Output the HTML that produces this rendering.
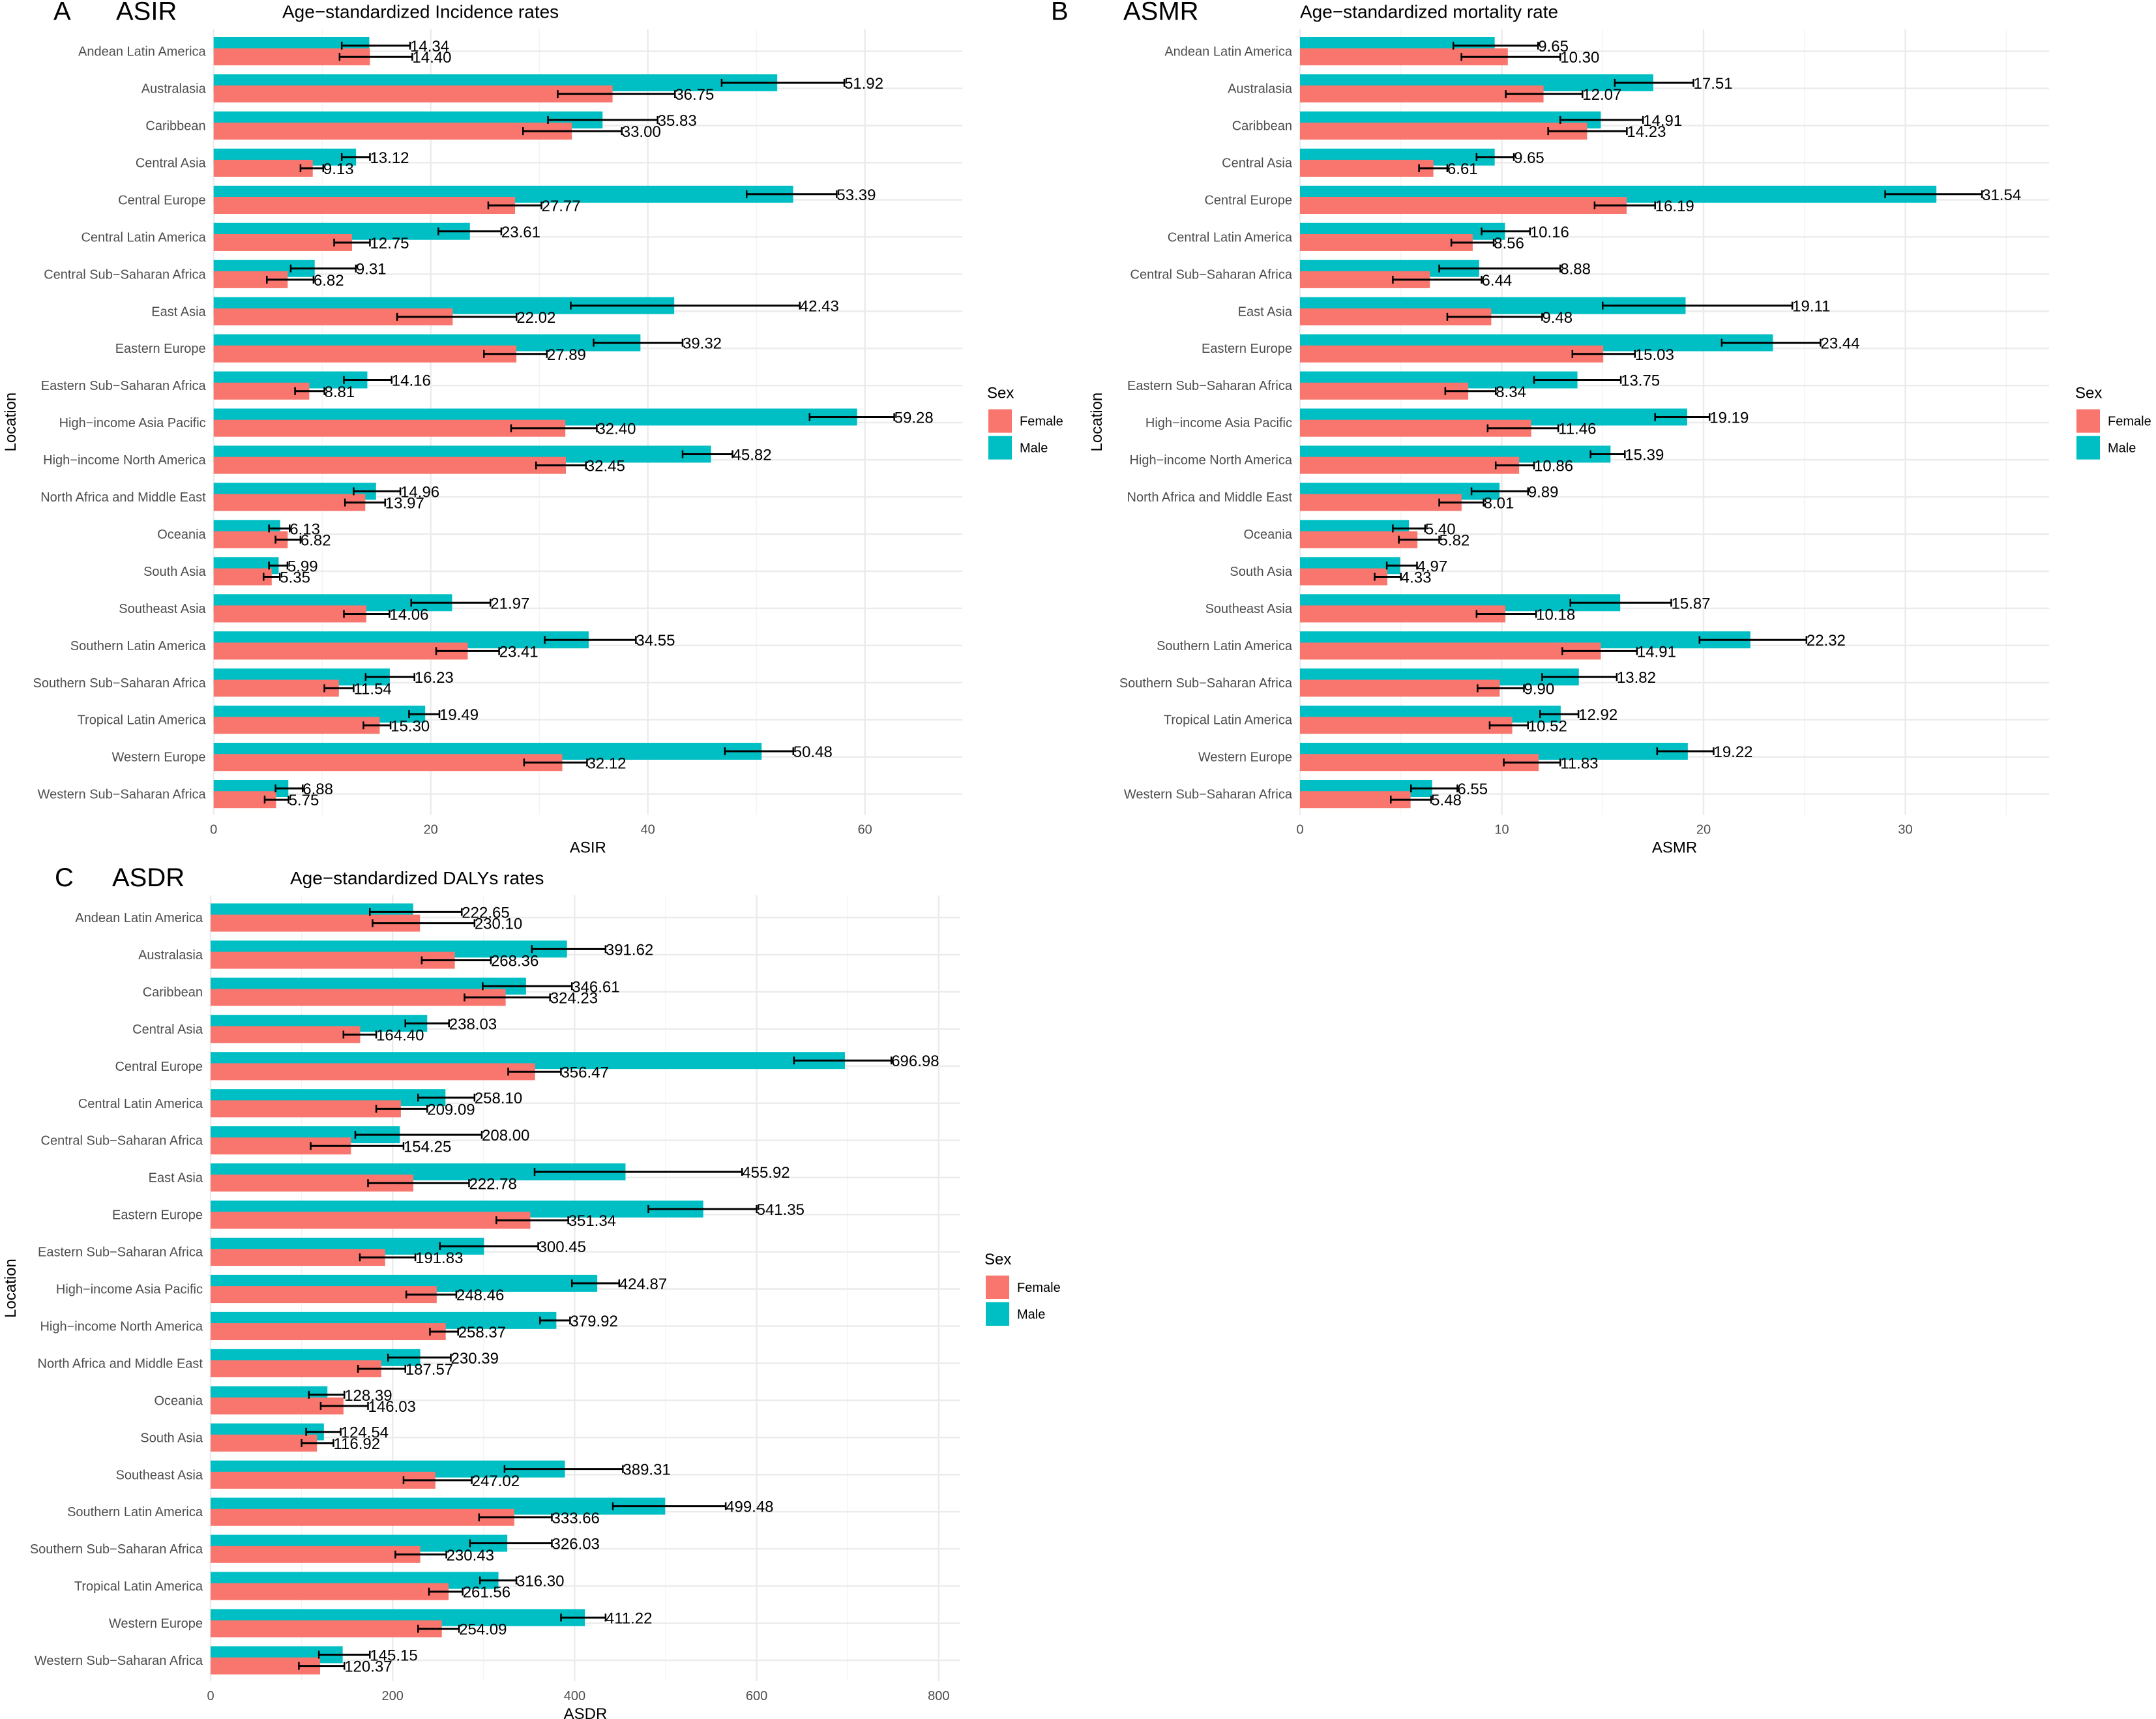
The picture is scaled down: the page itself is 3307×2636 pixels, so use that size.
<!DOCTYPE html>
<html><head><meta charset="utf-8"><style>
html,body{margin:0;padding:0;background:#fff;}
svg{display:block;font-family:"Liberation Sans",Arial,sans-serif;}
</style></head><body>
<svg id="chart" width="3307" height="2636" viewBox="0 0 3307 2636" xmlns="http://www.w3.org/2000/svg"></svg>
<script>
const categories = ["Andean Latin America","Australasia","Caribbean","Central Asia","Central Europe","Central Latin America","Central Sub\u2212Saharan Africa","East Asia","Eastern Europe","Eastern Sub\u2212Saharan Africa","High\u2212income Asia Pacific","High\u2212income North America","North Africa and Middle East","Oceania","South Asia","Southeast Asia","Southern Latin America","Southern Sub\u2212Saharan Africa","Tropical Latin America","Western Europe","Western Sub\u2212Saharan Africa"];

const asirMale = [14.34,51.92,35.83,13.12,53.39,23.61,9.31,42.43,39.32,14.16,59.28,45.82,14.96,6.13,5.99,21.97,34.55,16.23,19.49,50.48,6.88];
const asirFemale = [14.40,36.75,33.00,9.13,27.77,12.75,6.82,22.02,27.89,8.81,32.40,32.45,13.97,6.82,5.35,14.06,23.41,11.54,15.30,32.12,5.75];
const asirMaleLo = [11.8,46.8,30.8,11.8,49.1,20.7,7.1,32.9,35.0,12.0,54.9,43.2,12.9,5.1,5.1,18.2,30.5,14.0,18.0,47.1,5.7];
const asirMaleHi = [18.1,58.1,40.9,14.4,57.4,26.5,13.1,54.0,43.2,16.4,62.7,47.8,17.2,7.0,6.8,25.5,38.9,18.5,20.8,53.4,8.2];
const asirFemaleLo = [11.6,31.7,28.5,8.0,25.3,11.1,4.9,16.9,24.9,7.5,27.4,29.7,12.1,5.7,4.6,12.0,20.5,10.2,13.8,28.6,4.7];
const asirFemaleHi = [18.3,42.5,37.6,10.1,30.2,14.4,9.2,27.9,30.7,10.2,35.3,34.3,15.8,8.0,6.1,16.2,26.3,12.9,16.3,34.4,6.9];

const asmrMale = [9.65,17.51,14.91,9.65,31.54,10.16,8.88,19.11,23.44,13.75,19.19,15.39,9.89,5.40,4.97,15.87,22.32,13.82,12.92,19.22,6.55];
const asmrFemale = [10.30,12.07,14.23,6.61,16.19,8.56,6.44,9.48,15.03,8.34,11.46,10.86,8.01,5.82,4.33,10.18,14.91,9.90,10.52,11.83,5.48];
const asmrMaleLo = [7.6,15.6,12.9,8.75,29.0,9.0,6.9,15.0,20.9,11.6,17.6,14.4,8.5,4.6,4.3,13.4,19.8,12.0,11.9,17.7,5.5];
const asmrMaleHi = [11.8,19.5,17.0,10.6,33.8,11.4,12.9,24.4,25.8,15.9,20.3,16.1,11.3,6.2,5.8,18.4,25.1,15.7,13.8,20.5,7.8];
const asmrFemaleLo = [8.0,10.2,12.3,5.9,14.6,7.5,4.6,7.3,13.5,7.2,9.3,9.7,6.9,4.9,3.7,8.75,13.0,8.8,9.4,10.1,4.5];
const asmrFemaleHi = [12.9,14.0,16.2,7.3,17.6,9.6,9.0,12.0,16.6,9.7,12.8,11.6,9.1,6.9,5.0,11.7,16.7,11.1,11.3,12.9,6.5];

const asdrMale = [222.65,391.62,346.61,238.03,696.98,258.10,208.00,455.92,541.35,300.45,424.87,379.92,230.39,128.39,124.54,389.31,499.48,326.03,316.30,411.22,145.15];
const asdrFemale = [230.10,268.36,324.23,164.40,356.47,209.09,154.25,222.78,351.34,191.83,248.46,258.37,187.57,146.03,116.92,247.02,333.66,230.43,261.56,254.09,120.37];
const asdrMaleLo = [175,353,299,214,641,228,159,356,481,252,397,362,195,108,105,323,442,285,296,385,119];
const asdrMaleHi = [276,434,397,262,748,290,298,584,600,360,449,395,264,147,143,453,566,375,336,434,175];
const asdrFemaleLo = [178,232,279,146,327,182,110,173,314,164,215,241,162,121,100,212,295,203,240,228,97];
const asdrFemaleHi = [290,308,373,182,385,238,212,284,393,225,270,272,214,173,135,287,375,259,277,273,147];

const asirTicks = [0,20,40,60];
const asmrTicks = [0,10,20,30];
const asdrTicks = [0,200,400,600,800];

const svg = document.getElementById('chart');
const NS = 'http://www.w3.org/2000/svg';
function mk(tag, attrs, parent){const e=document.createElementNS(NS,tag);for(const k in attrs)e.setAttribute(k,attrs[k]);(parent||svg).appendChild(e);return e;}

function drawPanel(p){
  const g = mk('g',{});
  
  
  const xs = v => p.x0 + v * p.k;
  const rowY = i => p.y0 + i * 56.95;
  const top = p.y0 - 34, bottom = p.y0 + 20*56.95 + 32;
  for (let v = p.minor; xs(v) <= p.right; v += p.major) {
    const l = mk('line',{x1:xs(v),x2:xs(v),y1:top,y2:bottom,stroke:'#f2f2f2','stroke-width':1.2},g);
    
    
  }
  for (let v = 0; xs(v) <= p.right; v += p.major) {
    const l = mk('line',{x1:xs(v),x2:xs(v),y1:top,y2:bottom,stroke:'#ebebeb','stroke-width':2.4},g);
    
    
  }
  categories.forEach((c,i)=>{
    const l = mk('line',{x1:p.x0,x2:p.right,y1:rowY(i),y2:rowY(i),stroke:'#ebebeb','stroke-width':2.4},g);
    
    
  });
  categories.forEach((c,i)=>{
    const cy = rowY(i);
    const bm = mk('rect',{x:p.x0,y:cy-21.6,width:Math.max(0,xs(p.male[i])-p.x0),height:26,fill:'#00BFC4'},g);
    
    
    const bf = mk('rect',{x:p.x0,y:cy-4.4,width:Math.max(0,xs(p.female[i])-p.x0),height:26,fill:'#F8766D'},g);
    
    
  });
  categories.forEach((c,i)=>{
    const cy = rowY(i);
    [[p.maleLo[i],p.maleHi[i],p.male[i],cy-8.6],[p.femaleLo[i],p.femaleHi[i],p.female[i],cy+8.6]].forEach(([lo,hi,v,y])=>{
      const eg = mk('g',{stroke:'#000','stroke-width':3},g);
      
      
      mk('line',{x1:xs(lo),x2:xs(hi),y1:y,y2:y},eg);
      mk('line',{x1:xs(lo),x2:xs(lo),y1:y-6,y2:y+6,'stroke-width':2.5},eg);
      mk('line',{x1:xs(hi),x2:xs(hi),y1:y-6,y2:y+6,'stroke-width':2.5},eg);
      const t = mk('text',{x:xs(hi),y:y+9,'font-size':24,fill:'#000'},g);
      t.textContent = v.toFixed(2);
      
      
    });
    const lab = mk('text',{x:p.x0-12,y:cy+7,'font-size':20,fill:'#4d4d4d','text-anchor':'end'},g);
    lab.textContent = c;
    
    
  });
  p.ticks.forEach(v=>{
    const t = mk('text',{x:xs(v),y:bottom+29,'font-size':20,fill:'#4d4d4d','text-anchor':'middle'},g);
    t.textContent = v;
    
    
  });
  const xt = mk('text',{x:(p.x0+p.right)/2,y:bottom+58,'font-size':24,fill:'#000','text-anchor':'middle'},g);
  xt.textContent = p.axis;
  
  
  const yt = mk('text',{x:0,y:0,'font-size':24,fill:'#000','text-anchor':'middle',transform:`translate(${p.locX},${(top+bottom)/2}) rotate(-90)`},g);
  yt.textContent = 'Location';
  
  
  const tl = mk('text',{x:p.letterX,y:p.y0-48,'font-size':40,fill:'#000'},g);
  tl.textContent = p.letter;
  
  
  const ta = mk('text',{x:p.abbrX,y:p.y0-48,'font-size':40,fill:'#000'},g);
  ta.textContent = p.axis;
  
  
  const tt = mk('text',{x:p.titleX,y:p.y0-51,'font-size':28,fill:'#000'},g);
  tt.textContent = p.title;
  
  
  const lg = mk('g',{},g);
  
  
  const ly = p.y0 + 524;
  const st = mk('text',{x:p.legX,y:ly+8,'font-size':24,fill:'#000'},lg);
  st.textContent = 'Sex';
  
  
  [['Female','#F8766D',ly+25],['Male','#00BFC4',ly+66]].forEach(([n,col,y])=>{
    const r = mk('rect',{x:p.legX+2,y:y,width:36,height:36,fill:col},lg);
    
    
    const t = mk('text',{x:p.legX+50,y:y+25,'font-size':20,fill:'#000'},lg);
    t.textContent = n;
    
    
  });
}

drawPanel({id:'asir',letter:'A',axis:'ASIR',title:'Age\u2212standardized Incidence rates',x0:327.7,k:16.65,right:1476,major:20,minor:10,y0:78.6,ticks:asirTicks,
  male:asirMale,female:asirFemale,maleLo:asirMaleLo,maleHi:asirMaleHi,femaleLo:asirFemaleLo,femaleHi:asirFemaleHi,
  locX:24,letterX:82,abbrX:178,titleX:433,legX:1514});
drawPanel({id:'asmr',letter:'B',axis:'ASMR',title:'Age\u2212standardized mortality rate',x0:1994,k:30.95,right:3143,major:10,minor:5,y0:78.6,ticks:asmrTicks,
  male:asmrMale,female:asmrFemale,maleLo:asmrMaleLo,maleHi:asmrMaleHi,femaleLo:asmrFemaleLo,femaleHi:asmrFemaleHi,
  locX:1690,letterX:1612,abbrX:1723,titleX:1994,legX:3183});
drawPanel({id:'asdr',letter:'C',axis:'ASDR',title:'Age\u2212standardized DALYs rates',x0:323,k:1.396,right:1473,major:200,minor:100,y0:1407,ticks:asdrTicks,
  male:asdrMale,female:asdrFemale,maleLo:asdrMaleLo,maleHi:asdrMaleHi,femaleLo:asdrFemaleLo,femaleHi:asdrFemaleHi,
  locX:24,letterX:84,abbrX:172,titleX:445,legX:1510});
</script>
</body></html>
